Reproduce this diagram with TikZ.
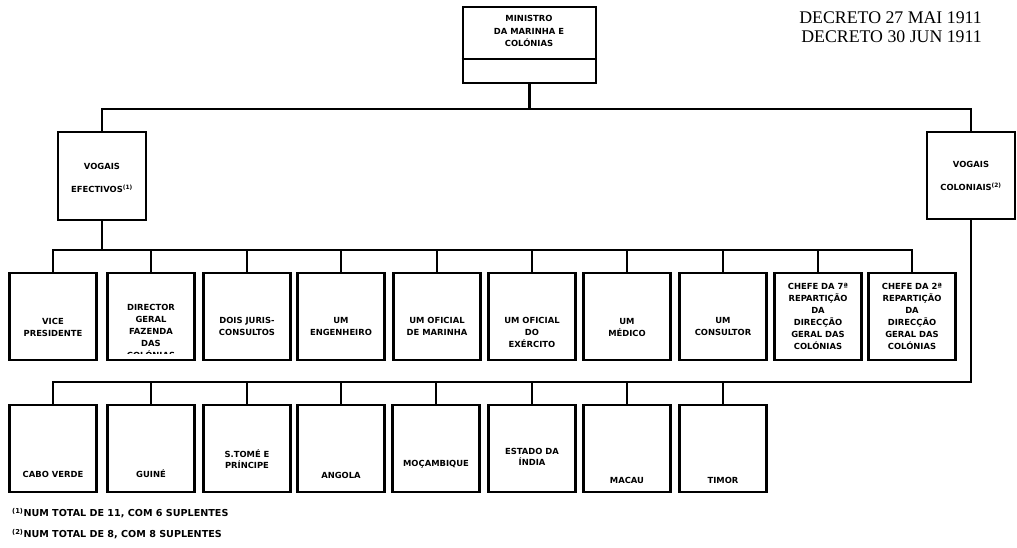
\documentclass[tikz,border=0pt]{standalone}
\usepackage{fontspec}
\newfontfamily\orgfont{DejaVu Sans}
\newfontfamily\decfont{Liberation Serif}
\usetikzlibrary{positioning}

\begin{document}
\begin{tikzpicture}[x=1pt, y=-1pt,
	box/.style={draw, line width=2.7pt, minimum width=87pt, minimum height=87pt, inner sep=0pt},
	lbl/.style={font=\orgfont\bfseries\fontsize{8.4}{12}\selectfont, align=center, inner sep=0pt},
	note/.style={font=\orgfont\bfseries\fontsize{9.6}{11}\selectfont, anchor=west, inner sep=0pt},
	conn/.style={line width=2.5pt}]
	\useasboundingbox (0,0) rectangle (1017,547);
	% top of the chart
	\node[box, minimum width=133pt, minimum height=76pt] (min) at (529.5,45) {};
	\coordinate (mdiv) at (529.5,59);
	\draw[line width=2.7pt] (min.west |- mdiv) -- (min.east |- mdiv);
	\node[lbl, font=\orgfont\bfseries\fontsize{8.4}{12.5}\selectfont] (min-t) at (529,31) {MINISTRO\\DA MARINHA E\\COLÓNIAS};
	\node[font=\decfont\fontsize{17.8}{18.5}\selectfont, align=right, anchor=north east, inner sep=0pt] (dec) at (982,12) {DECRETO 27 MAI 1911\\DECRETO 30 JUN 1911};
	\node[box, minimum width=88pt, minimum height=88pt] (vef) at (102,176) {};
	\node[box, minimum width=88pt, minimum height=87pt] (vcol) at (971,175.5) {};
	\node[lbl, font=\orgfont\bfseries\fontsize{8.4}{23}\selectfont] (vef-t) at (102,178) {VOGAIS\\EFECTIVOS\textsuperscript{(1)}};
	\node[lbl, font=\orgfont\bfseries\fontsize{8.4}{23}\selectfont] (vcol-t) at (971,176) {VOGAIS\\COLONIAIS\textsuperscript{(2)}};
	\coordinate (bus0) at (529.5,109);
	\draw[conn] (min.south) -- (bus0);
	\draw[conn] (vef.north) -- (vef.north |- bus0) -- (vcol.north |- bus0) -- (vcol.north);
	% vogais efectivos
	\node[box] (vp) at (53,316.5) {};
	\node[box] (dir) at (151,316.5) {};
	\node[box] (juris) at (247,316.5) {};
	\node[box] (eng) at (341,316.5) {};
	\node[box] (ofmar) at (437,316.5) {};
	\node[box] (ofex) at (532,316.5) {};
	\node[box] (med) at (627,316.5) {};
	\node[box] (cons) at (723,316.5) {};
	\node[box] (chefe7) at (818,316.5) {};
	\node[box] (chefe2) at (912,316.5) {};
	\node[lbl] (vp-t) at (53,327) {VICE\\PRESIDENTE};
	\begin{scope}
		\clip (108,275) rectangle (194,353.5);
		\node[lbl] (dir-t) at (151,331) {DIRECTOR\\GERAL\\FAZENDA\\DAS\\COLÓNIAS};
	\end{scope}
	\node[lbl] (juris-t) at (247,326) {DOIS JURIS-\\CONSULTOS};
	\node[lbl] (eng-t) at (341,326) {UM\\ENGENHEIRO};
	\node[lbl] (ofmar-t) at (437,326) {UM OFICIAL\\DE MARINHA};
	\node[lbl] (ofex-t) at (532,332) {UM OFICIAL\\DO\\EXÉRCITO};
	\node[lbl] (med-t) at (627,327) {UM\\MÉDICO};
	\node[lbl] (cons-t) at (723,326) {UM\\CONSULTOR};
	\node[lbl] (chefe7-t) at (818,316) {CHEFE DA 7ª\\REPARTIÇÃO\\DA\\DIRECÇÃO\\GERAL DAS\\COLÓNIAS};
	\node[lbl] (chefe2-t) at (912,316) {CHEFE DA 2ª\\REPARTIÇÃO\\DA\\DIRECÇÃO\\GERAL DAS\\COLÓNIAS};
	\coordinate (bus1) at (102,250);
	\draw[conn] (vef.south) -- (bus1);
	\draw[conn] (vp.north) -- (vp.north |- bus1) -- (chefe2.north |- bus1) -- (chefe2.north);
	\foreach \n in {dir,juris,eng,ofmar,ofex,med,cons,chefe7}
		\draw[conn] (\n.north) -- (\n.north |- bus1);
	% vogais coloniais
	\node[box] (cv) at (53,448.5) {};
	\node[box] (gui) at (151,448.5) {};
	\node[box] (stp) at (247,448.5) {};
	\node[box] (ang) at (341,448.5) {};
	\node[box] (moc) at (436,448.5) {};
	\node[box] (ind) at (532,448.5) {};
	\node[box] (mac) at (627,448.5) {};
	\node[box] (tim) at (723,448.5) {};
	\node[lbl] (cv-t) at (53,474) {CABO VERDE};
	\node[lbl] (gui-t) at (151,474) {GUINÉ};
	\node[lbl, font=\orgfont\bfseries\fontsize{8.4}{11}\selectfont] (stp-t) at (247,459) {S.TOMÉ E\\PRÍNCIPE};
	\node[lbl] (ang-t) at (341,475) {ANGOLA};
	\node[lbl] (moc-t) at (436,464) {MOÇAMBIQUE};
	\node[lbl, font=\orgfont\bfseries\fontsize{8.4}{11}\selectfont] (ind-t) at (532,457) {ESTADO DA\\ÍNDIA};
	\node[lbl] (mac-t) at (627,480) {MACAU};
	\node[lbl] (tim-t) at (723,480) {TIMOR};
	\coordinate (bus2) at (971,382);
	\draw[conn] (vcol.south) -- (bus2) -- (cv.north |- bus2) -- (cv.north);
	\foreach \n in {gui,stp,ang,moc,ind,mac,tim}
		\draw[conn] (\n.north) -- (\n.north |- bus2);
	% notes
	\node[note] (fn1) at (12,513) {\textsuperscript{(1)}NUM TOTAL DE 11, COM 6 SUPLENTES};
	\node[note] (fn2) at (12,534) {\textsuperscript{(2)}NUM TOTAL DE 8, COM 8 SUPLENTES};
\end{tikzpicture}
\end{document}
